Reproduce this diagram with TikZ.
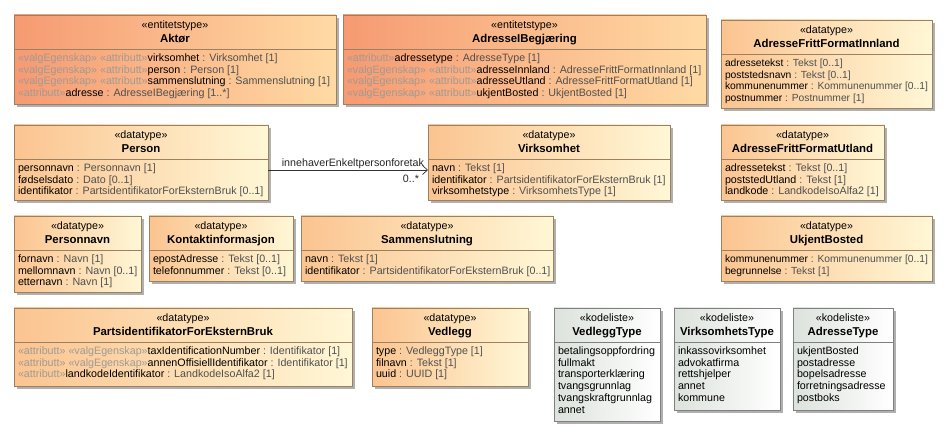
\documentclass[tikz,border=0pt]{standalone}
\usepackage{fontspec}
\setmainfont{Liberation Sans}
\usetikzlibrary{shadows,arrows.meta,calc}
\definecolor{entL}{HTML}{F69A72}
\definecolor{entR}{HTML}{FFDAA4}
\definecolor{dtL}{HTML}{FBC490}
\definecolor{dtR}{HTML}{FFF7D6}
\definecolor{klL}{HTML}{DCE2DC}
\definecolor{klR}{HTML}{FFFFFF}
\definecolor{bord}{HTML}{9C8060}
\definecolor{klbord}{HTML}{808080}
\definecolor{shad}{HTML}{B0B0B0}
\definecolor{stc}{HTML}{A09A94}
\definecolor{tyc}{HTML}{505050}
\newcommand{\at}[3]{\textcolor{stc}{#1}\textcolor{black}{#2}\textcolor{tyc}{\ #3}}
\newcommand{\an}[2]{\textcolor{black}{#1}\textcolor{tyc}{\ #2}}
\tikzset{
  every node/.style={font=\fontsize{10.7bp}{11.7bp}\selectfont, inner sep=0pt, outer sep=0pt},
  boxbase/.style={draw=bord, line width=0.8bp, anchor=north west,
    drop shadow={shadow xshift=3bp, shadow yshift=-3bp, fill=shad, opacity=1}},
  entbox/.style={boxbase, left color=entL, right color=entR},
  dtbox/.style={boxbase, left color=dtL, right color=dtR},
  klbox/.style={boxbase, draw=klbord, left color=klL, right color=klR},
  hdr/.style={anchor=base},
  ttl/.style={anchor=base, font=\fontsize{11.4bp}{12bp}\selectfont\bfseries},
  rowtxt/.style={anchor=base west},
  narrowtxt/.style={font=\fontsize{10.3bp}{11.7bp}\selectfont},
  assoc/.style={draw=black!80, line width=0.7bp, -{Straight Barb[length=5bp,width=9bp]}},
  lbl/.style={text=black!85}
}
% #1 name, #2 style, #3 separator colour, #4 x, #5 y, #6 w, #7 h, #8 stereotype, #9 title
\newcommand{\umlbox}[9]{%
  \node[#2, minimum width=#6bp, minimum height=#7bp] (#1) at (#4,#5) {};
  \draw[#3, line width=0.8bp] ($(#1.north west)+(0,34)$) -- ($(#1.north east)+(0,34)$);
  \node[hdr] (#1-st) at ($(#1.north)+(0,13.3)$) {«#8»};
  \node[ttl] (#1-nm) at ($(#1.north)+(0,27.3)$) {#9};
}
\newcommand{\boxrows}[3][]{%
  \foreach \t [count=\i] in {#3} {%
    \node[rowtxt,#1] (#2-r\i) at ($(#2.north west)+(4,{46.5+(\i-1)*11.7})$) {\t};
  }%
}
\begin{document}
\begin{tikzpicture}[x=1bp,y=-1bp]
\fill[white] (0,0) rectangle (948,436);
\useasboundingbox (0,0) rectangle (948,436);

% Row 1
\umlbox{aktor}{entbox}{bord}{14}{15}{322}{89}{entitetstype}{Aktør}
\boxrows{aktor}{{\at{«valgEgenskap» «attributt»}{virksomhet}{: Virksomhet [1]}},
  {\at{«valgEgenskap» «attributt»}{person}{: Person [1]}},
  {\at{«valgEgenskap» «attributt»}{sammenslutning}{: Sammenslutning [1]}},
  {\at{«attributt»}{adresse}{: AdresseIBegjæring [1..*]}}}

\umlbox{adrbeg}{entbox}{bord}{343}{15}{363}{89}{entitetstype}{AdresseIBegjæring}
\boxrows{adrbeg}{{\at{«attributt»}{adressetype}{: AdresseType [1]}},
  {\at{«valgEgenskap» «attributt»}{adresseInnland}{: AdresseFrittFormatInnland [1]}},
  {\at{«valgEgenskap» «attributt»}{adresseUtland}{: AdresseFrittFormatUtland [1]}},
  {\at{«valgEgenskap» «attributt»}{ukjentBosted}{: UkjentBosted [1]}}}

\umlbox{innland}{dtbox}{bord}{721}{20}{211}{88}{datatype}{AdresseFrittFormatInnland}
\boxrows[narrowtxt]{innland}{{\an{adressetekst}{: Tekst [0..1]}},
  {\an{poststedsnavn}{: Tekst [0..1]}},
  {\an{kommunenummer}{: Kommunenummer [0..1]}},
  {\an{postnummer}{: Postnummer [1]}}}

% Row 2
\umlbox{person}{dtbox}{bord}{14}{125}{254}{75}{datatype}{Person}
\boxrows{person}{{\an{personnavn}{: Personnavn [1]}},
  {\an{fødselsdato}{: Dato [0..1]}},
  {\an{identifikator}{: PartsidentifikatorForEksternBruk [0..1]}}}

\umlbox{virk}{dtbox}{bord}{428}{125}{242}{75}{datatype}{Virksomhet}
\boxrows{virk}{{\an{navn}{: Tekst [1]}},
  {\an{identifikator}{: PartsidentifikatorForEksternBruk [1]}},
  {\an{virksomhetstype}{: VirksomhetsType [1]}}}

\umlbox{utland}{dtbox}{bord}{721}{125}{163}{75}{datatype}{AdresseFrittFormatUtland}
\boxrows{utland}{{\an{adressetekst}{: Tekst [0..1]}},
  {\an{poststedUtland}{: Tekst [1]}},
  {\an{landkode}{: LandkodeIsoAlfa2 [1]}}}

% connector
\draw[assoc] ([yshift=-7.5bp]person.east) -- ([yshift=-7.5bp]virk.west);
\node[lbl, anchor=base east] (assoc-name) at ($(virk.west)+(-4,4)$) {innehaverEnkeltpersonforetak};
\node[lbl, anchor=base east] (assoc-mult) at ($(virk.west)+(-9,20.5)$) {0..*};

% Row 3
\umlbox{pnavn}{dtbox}{bord}{14}{216}{127}{76}{datatype}{Personnavn}
\boxrows{pnavn}{{\an{fornavn}{: Navn [1]}},
  {\an{mellomnavn}{: Navn [0..1]}},
  {\an{etternavn}{: Navn [1]}}}

\umlbox{kontakt}{dtbox}{bord}{149}{216}{144}{65}{datatype}{Kontaktinformasjon}
\boxrows{kontakt}{{\an{epostAdresse}{: Tekst [0..1]}},
  {\an{telefonnummer}{: Tekst [0..1]}}}

\umlbox{samm}{dtbox}{bord}{301}{216}{252}{65}{datatype}{Sammenslutning}
\boxrows{samm}{{\an{navn}{: Tekst [1]}},
  {\an{identifikator}{: PartsidentifikatorForEksternBruk [0..1]}}}

\umlbox{ukjent}{dtbox}{bord}{721}{216}{211}{65}{datatype}{UkjentBosted}
\boxrows[narrowtxt]{ukjent}{{\an{kommunenummer}{: Kommunenummer [0..1]}},
  {\an{begrunnelse}{: Tekst [1]}}}

% Row 4
\umlbox{parts}{dtbox}{bord}{14}{308}{338}{78}{datatype}{PartsidentifikatorForEksternBruk}
\boxrows{parts}{{\at{«attributt» «valgEgenskap»}{taxIdentificationNumber}{: Identifikator [1]}},
  {\at{«attributt» «valgEgenskap»}{annenOffisiellIdentifikator}{: Identifikator [1]}},
  {\at{«attributt»}{landkodeIdentifikator}{: LandkodeIsoAlfa2 [1]}}}

\umlbox{vedlegg}{dtbox}{bord}{372}{308}{156}{78}{datatype}{Vedlegg}
\boxrows{vedlegg}{{\an{type}{: VedleggType [1]}},
  {\an{filnavn}{: Tekst [1]}},
  {\an{uuid}{: UUID [1]}}}

\umlbox{vtype}{klbox}{klbord}{554}{308}{106}{113}{kodeliste}{VedleggType}
\boxrows{vtype}{betalingsoppfordring,fullmakt,transporterklæring,tvangsgrunnlag,tvangskraftgrunnlag,annet}

\umlbox{virktype}{klbox}{klbord}{674}{308}{106}{102}{kodeliste}{VirksomhetsType}
\boxrows{virktype}{inkassovirksomhet,advokatfirma,rettshjelper,annet,kommune}

\umlbox{adrtype}{klbox}{klbord}{793}{308}{100}{102}{kodeliste}{AdresseType}
\boxrows{adrtype}{ukjentBosted,postadresse,bopelsadresse,forretningsadresse,postboks}
\end{tikzpicture}
\end{document}
